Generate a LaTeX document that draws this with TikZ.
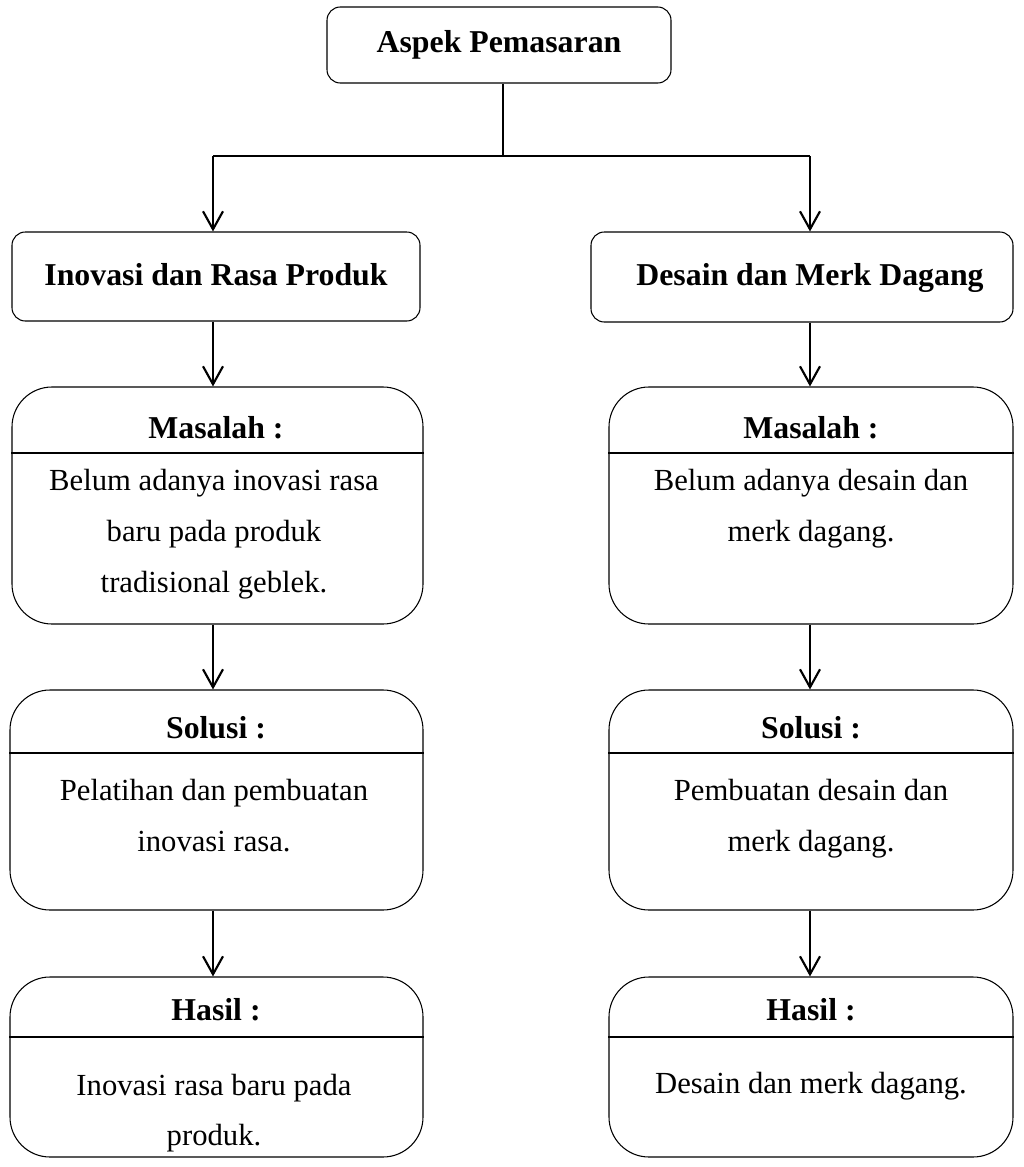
\documentclass[tikz,border=0pt]{standalone}
\usepackage{fontspec}
\setmainfont{Liberation Serif}
\usetikzlibrary{arrows.meta}
\begin{document}
\begin{tikzpicture}[x=0.75pt,y=-0.75pt,
  every node/.style={font=\fontsize{23}{30}\selectfont},
  smallbox/.style={draw, line width=0.8pt, rounded corners=10pt, inner sep=0pt},
  bigbox/.style={draw, line width=0.8pt, rounded corners=30pt, inner sep=0pt},
  divider/.style={line width=0.8pt},
  conn/.style={line width=1.6pt},
  arr/.style={conn, -{Straight Barb[length=13.5pt, width=15pt]}},
  hd/.style={font=\fontsize{23.85}{30}\selectfont\bfseries, anchor=base, inner sep=0pt},
  bd/.style={anchor=base, inner sep=0pt}]
\useasboundingbox (0,0) rectangle (1024,1167);

% top
\node[smallbox, minimum width=258pt, minimum height=57pt, font=\fontsize{23.85}{30}\selectfont\bfseries] (top) at (499,45) {Aspek Pemasaran};

% level 1
\node[smallbox, minimum width=306pt, minimum height=66.75pt] (a1) at (216,276.5) {};
\node[hd] (a1t) at (216,285) {Inovasi dan Rasa Produk};
\node[smallbox, minimum width=316.5pt, minimum height=67.5pt] (b1) at (802,277) {};
\node[hd] (b1t) at (810,285) {Desain dan Merk Dagang};

% big boxes left
\node[bigbox, minimum width=308.25pt, minimum height=177.75pt] (a2) at (217.5,505.5) {};
\node[bigbox, minimum width=309.75pt, minimum height=165pt] (a3) at (216.5,800) {};
\node[bigbox, minimum width=309.75pt, minimum height=135pt] (a4) at (216.5,1067) {};
% big boxes right
\node[bigbox, minimum width=303pt, minimum height=177.75pt] (b2) at (811,505.5) {};
\node[bigbox, minimum width=303pt, minimum height=165pt] (b3) at (811,800) {};
\node[bigbox, minimum width=303pt, minimum height=135pt] (b4) at (811,1067) {};

% dividers
\coordinate (d2) at (0,453);
\coordinate (d3) at (0,753);
\coordinate (d4) at (0,1037);
\draw[divider] (a2.west |- d2) -- (a2.east |- d2);
\draw[divider] (a3.west |- d3) -- (a3.east |- d3);
\draw[divider] (a4.west |- d4) -- (a4.east |- d4);
\draw[divider] (b2.west |- d2) -- (b2.east |- d2);
\draw[divider] (b3.west |- d3) -- (b3.east |- d3);
\draw[divider] (b4.west |- d4) -- (b4.east |- d4);

% headers
\node[hd] (a2h) at (216,438) {Masalah :};
\node[hd] (a3h) at (216,738) {Solusi :};
\node[hd] (a4h) at (216,1020) {Hasil :};
\node[hd] (b2h) at (811,438) {Masalah :};
\node[hd] (b3h) at (811,738) {Solusi :};
\node[hd] (b4h) at (811,1020) {Hasil :};

% body texts left
\node[bd] (a2l1) at (214,490) {Belum adanya inovasi rasa};
\node[bd] (a2l2) at (214,541) {baru pada produk};
\node[bd] (a2l3) at (214,592) {tradisional geblek.};
\node[bd] (a3l1) at (214,800) {Pelatihan dan pembuatan};
\node[bd] (a3l2) at (214,851) {inovasi rasa.};
\node[bd] (a4l1) at (214,1095) {Inovasi rasa baru pada};
\node[bd] (a4l2) at (214,1145) {produk.};
% body texts right
\node[bd] (b2l1) at (811,490) {Belum adanya desain dan};
\node[bd] (b2l2) at (811,541) {merk dagang.};
\node[bd] (b3l1) at (811,800) {Pembuatan desain dan};
\node[bd] (b3l2) at (811,851) {merk dagang.};
\node[bd] (b4l1) at (811,1093) {Desain dan merk dagang.};

% connectors
\coordinate (jn) at (503,156);
\coordinate (jl) at (213,156);
\coordinate (jr) at (810,156);
\draw[conn] (top.south -| jn) -- (jn);
\draw[conn] (jl) -- (jr);
\draw[arr] (jl) -- (jl |- a1.north);
\draw[arr] (jr) -- (jr |- b1.north);
\draw[arr] (a1.south -| jl) -- (a2.north -| jl);
\draw[arr] (a2.south -| jl) -- (a3.north -| jl);
\draw[arr] (a3.south -| jl) -- (a4.north -| jl);
\draw[arr] (b1.south -| jr) -- (b2.north -| jr);
\draw[arr] (b2.south -| jr) -- (b3.north -| jr);
\draw[arr] (b3.south -| jr) -- (b4.north -| jr);
\end{tikzpicture}
\end{document}
